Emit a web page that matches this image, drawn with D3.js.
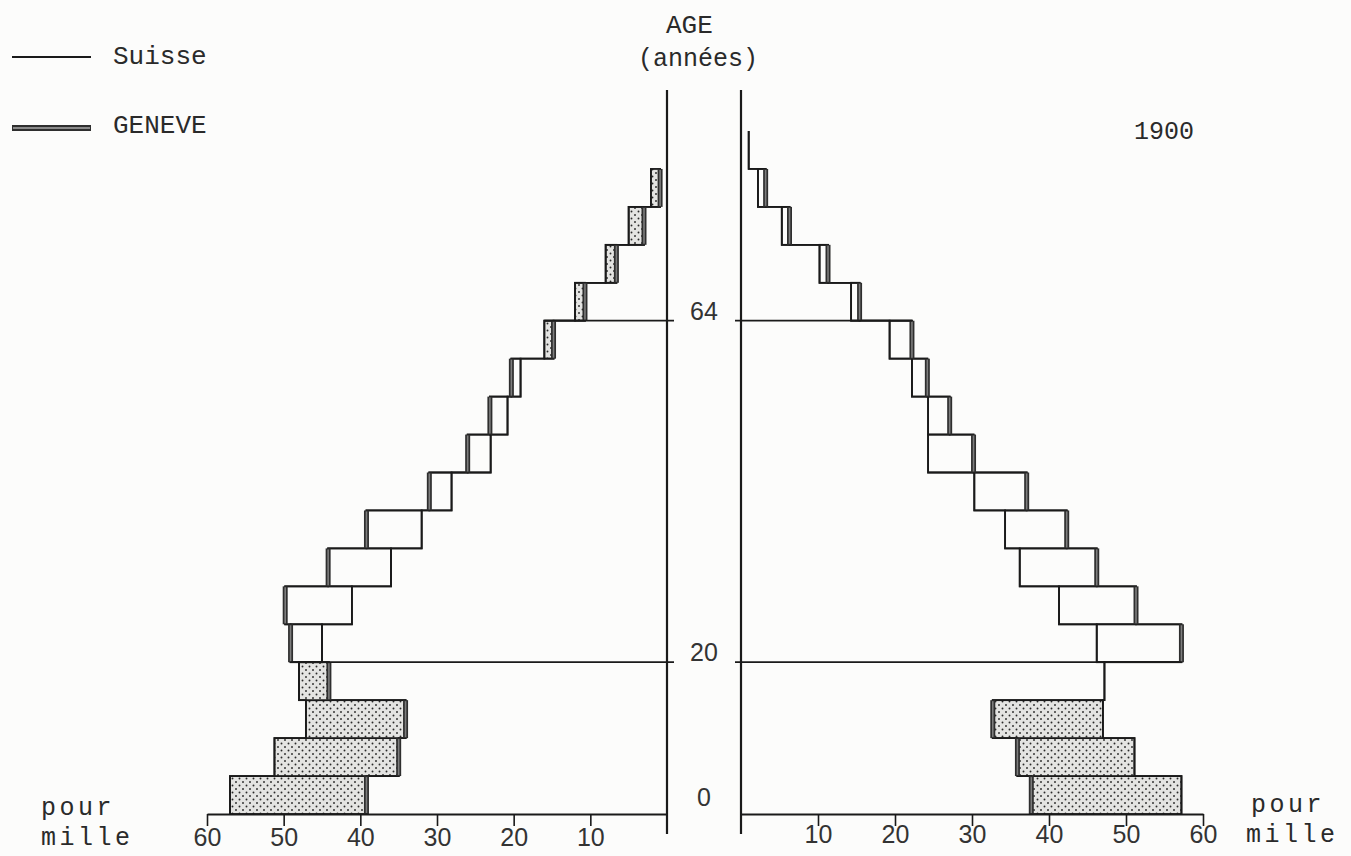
<!DOCTYPE html>
<html>
<head>
<meta charset="utf-8">
<script src="https://cdn.jsdelivr.net/npm/d3@7"></script>
<style>
  body { margin: 0; background: #fcfcfb; }
  svg { display: block; }
  .mono { font-family: "Liberation Mono", "DejaVu Sans Mono", monospace; fill: #2a2a2a; }
  .num { font-family: "Liberation Sans", "DejaVu Sans", sans-serif; fill: #333; }
</style>
</head>
<body>
<div id="chart"></div>
<script>
// age groups (5 years each), values in pour mille
const ageStarts = [0, 5, 10, 15, 20, 25, 30, 35, 40, 45, 50, 55, 60, 65, 70, 75, 80, 85];
const ageLabels = ["0-4", "5-9", "10-14", "15-19", "20-24", "25-29", "30-34", "35-39", "40-44",
                   "45-49", "50-54", "55-59", "60-64", "65-69", "70-74", "75-79", "80-84", "85+"];

// left half of the pyramid
const leftSuisse = [57.0, 51.2, 47.1, 48.0, 45.0, 41.1, 36.0, 32.0, 28.1, 23.0, 20.8, 19.1, 16.0, 12.0, 8.0, 5.0, 2.1, null];
const leftGeneve = [39.2, 35.0, 34.1, 44.1, 49.1, 49.8, 44.2, 39.2, 31.0, 26.0, 23.1, 20.3, 14.8, 10.7, 6.6, 3.0, 0.9, null];

// right half of the pyramid
const rightSuisse = [57.2, 51.1, 47.0, 47.2, 46.2, 41.3, 36.2, 34.3, 30.3, 24.3, 24.3, 22.2, 19.3, 14.3, 10.2, 5.3, 2.2, 1.0];
const rightGeneve = [37.7, 35.9, 32.7, 47.2, 57.2, 51.3, 46.2, 42.3, 37.1, 30.2, 27.1, 24.2, 22.2, 15.4, 11.3, 6.3, 3.2, 1.0];

const tickValues = [10, 20, 30, 40, 50, 60];
const refLines = [{ age: 20, label: "20" }, { age: 65, label: "64" }];
const year = "1900";

const width = 1351, height = 856;
const groupSpan = 5;

const svg = d3.select("#chart").append("svg")
    .attr("width", width)
    .attr("height", height);

svg.append("rect")
    .attr("width", width)
    .attr("height", height)
    .attr("fill", "#fcfcfb");

// dotted shading for groups where Suisse > Geneve
const pattern = svg.append("defs")
    .append("pattern")
    .attr("id", "dots")
    .attr("patternUnits", "userSpaceOnUse")
    .attr("width", 7)
    .attr("height", 7);
pattern.append("rect").attr("width", 7).attr("height", 7).attr("fill", "#e4e4e2");
pattern.append("circle").attr("cx", 1.5).attr("cy", 1.5).attr("r", 0.95).attr("fill", "#2a2a2a");
pattern.append("circle").attr("cx", 5).attr("cy", 5).attr("r", 0.95).attr("fill", "#2a2a2a");

// scales
const y = d3.scaleLinear().domain([0, 90]).range([814, 131]);
const xLeft = d3.scaleLinear().domain([0, 60]).range([667, 207]);
const xRight = d3.scaleLinear().domain([0, 60]).range([741, 1203]);

const ink = "#1a1a1a";

function drawSide(x, suisse, geneve, side) {
    const g = svg.append("g").attr("class", "side-" + side);

    // bars between the two values
    const rows = ageStarts.map((a, i) => ({ a: a, s: suisse[i], g: geneve[i] }))
        .filter(d => d.s != null && d.g != null);

    g.selectAll("rect.bar")
        .data(rows.filter(d => d.s !== d.g))
        .enter()
        .append("rect")
        .attr("class", "bar")
        .attr("x", d => Math.min(x(d.s), x(d.g)))
        .attr("width", d => Math.abs(x(d.s) - x(d.g)))
        .attr("y", d => y(d.a + groupSpan))
        .attr("height", d => y(d.a) - y(d.a + groupSpan))
        .attr("fill", d => d.s > d.g ? "url(#dots)" : "none")
        .attr("stroke", ink)
        .attr("stroke-width", 1.8);

    // step outlines
    const stepPoints = values => {
        const pts = [];
        ageStarts.forEach((a, i) => {
            if (values[i] == null) return;
            pts.push([x(values[i]), y(a)]);
            pts.push([x(values[i]), y(a + groupSpan)]);
        });
        return pts;
    };
    const line = d3.line();

    [suisse, geneve].forEach(values => {
        g.append("path")
            .attr("d", line(stepPoints(values)))
            .attr("fill", "none")
            .attr("stroke", ink)
            .attr("stroke-width", 1.8);
    });

    // thick Geneve edges
    const thick = rows.filter(d => d.s !== d.g);
    g.selectAll("line.gen-outer")
        .data(thick)
        .enter()
        .append("line")
        .attr("x1", d => x(d.g)).attr("x2", d => x(d.g))
        .attr("y1", d => y(d.a)).attr("y2", d => y(d.a + groupSpan))
        .attr("stroke", "#2e2e2e")
        .attr("stroke-width", 5);
    g.selectAll("line.gen-inner")
        .data(thick)
        .enter()
        .append("line")
        .attr("x1", d => x(d.g)).attr("x2", d => x(d.g))
        .attr("y1", d => y(d.a) - 1).attr("y2", d => y(d.a + groupSpan) + 1)
        .attr("stroke", "#7d7d7d")
        .attr("stroke-width", 1.6);

    // reference lines at 20 and 64
    refLines.forEach(r => {
        const i = ageStarts.indexOf(r.age);
        const reach = d3.max([suisse[i - 1], geneve[i - 1], suisse[i], geneve[i]]);
        const start = side === "left" ? x(0) + 7 : x(0) - 6;
        g.append("line")
            .attr("x1", start).attr("x2", x(reach))
            .attr("y1", y(r.age)).attr("y2", y(r.age))
            .attr("stroke", ink)
            .attr("stroke-width", 1.8);
    });

    // vertical axis
    g.append("line")
        .attr("x1", x(0)).attr("x2", x(0))
        .attr("y1", 90).attr("y2", 834)
        .attr("stroke", ink)
        .attr("stroke-width", 2.2);

    // horizontal axis
    const axis = d3.axisBottom(x)
        .tickValues(tickValues)
        .tickSize(12)
        .tickSizeOuter(0)
        .tickPadding(1);
    const ax = g.append("g")
        .attr("transform", `translate(0,${y(0)})`)
        .call(axis);
    ax.select(".domain").attr("stroke", ink).attr("stroke-width", 2);
    ax.selectAll(".tick line").attr("stroke", ink).attr("stroke-width", 1.6);
    ax.selectAll(".tick text")
        .attr("class", "num")
        .attr("fill", "#333")
        .style("font-size", "25px")
        .attr("y", side === "left" ? 14 : 11);
}

drawSide(xLeft, leftSuisse, leftGeneve, "left");
drawSide(xRight, rightSuisse, rightGeneve, "right");

// age labels between the axes
const midX = (xLeft(0) + xRight(0)) / 2;
const ageMarks = [{ age: 0, label: "0" }].concat(refLines);
svg.selectAll("text.age")
    .data(ageMarks)
    .enter()
    .append("text")
    .attr("class", "num")
    .attr("x", d => midX)
    .attr("y", d => d.age === 0 ? y(0) - 8 : y(d.age) - 1)
    .attr("text-anchor", "middle")
    .style("font-size", "25px")
    .text(d => d.label);

// titles
svg.append("text").attr("class", "mono")
    .attr("x", 666).attr("y", 33)
    .style("font-size", "26px")
    .text("AGE");
svg.append("text").attr("class", "mono")
    .attr("x", 638).attr("y", 66)
    .style("font-size", "25px")
    .text("(années)");
svg.append("text").attr("class", "mono")
    .attr("x", 1134).attr("y", 139)
    .style("font-size", "25px")
    .text(year);

// legend
svg.append("line")
    .attr("x1", 12).attr("x2", 91).attr("y1", 57).attr("y2", 57)
    .attr("stroke", ink).attr("stroke-width", 1.9);
svg.append("text").attr("class", "mono")
    .attr("x", 113).attr("y", 64)
    .style("font-size", "26px")
    .text("Suisse");
svg.append("line")
    .attr("x1", 12).attr("x2", 91).attr("y1", 128).attr("y2", 128)
    .attr("stroke", "#2e2e2e").attr("stroke-width", 6);
svg.append("line")
    .attr("x1", 13).attr("x2", 90).attr("y1", 128).attr("y2", 128)
    .attr("stroke", "#8a8a8a").attr("stroke-width", 2.2);
svg.append("text").attr("class", "mono")
    .attr("x", 113).attr("y", 133)
    .style("font-size", "26px")
    .text("GENEVE");

// unit labels
const units = [
    { x: 41, y: 815, t: "pour" }, { x: 41, y: 845, t: "mille" },
    { x: 1251, y: 812, t: "pour" }, { x: 1246, y: 842, t: "mille" }
];
svg.selectAll("text.unit")
    .data(units)
    .enter()
    .append("text")
    .attr("class", "mono")
    .attr("x", d => d.x)
    .attr("y", d => d.y)
    .style("font-size", "25px")
    .style("letter-spacing", "3.5px")
    .text(d => d.t);
</script>
</body>
</html>
